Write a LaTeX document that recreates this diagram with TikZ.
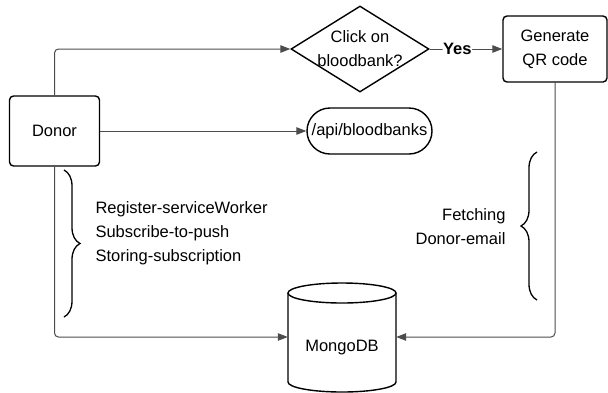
\documentclass[tikz,border=0pt]{standalone}
\usepackage{fontspec}
\setmainfont{Liberation Sans}
\usetikzlibrary{shapes.geometric,arrows.meta,decorations.pathreplacing}
\begin{document}
\begin{tikzpicture}[x=1pt,y=-1pt,
  every node/.style={font=\fontsize{16.5}{24}\selectfont},
  shapebox/.style={draw=black,line width=1.4pt,rounded corners=4pt,inner sep=0pt},
  conn/.style={draw=black!70,line width=1pt,rounded corners=4pt,-{Triangle[length=10pt,width=7.5pt]}},
  bracestyle/.style={draw=black,line width=1.3pt,decorate,decoration={brace,amplitude=16pt}}]
\useasboundingbox (0,0) rectangle (608,392);
\node[shapebox,minimum width=90pt,minimum height=70pt] (donor) at (54.5,131) {Donor};
\node[draw=black,line width=1.4pt,diamond,minimum width=138pt,minimum height=86pt,inner sep=0pt,
  label={[align=center,font=\fontsize{16.5}{24}\selectfont]center:Click on\\bloodbank?}] (dia) at (360,49) {};
\node[shapebox,minimum width=104pt,minimum height=66pt,align=center] (gen) at (555,49) {Generate\\QR code};
\node[draw=black,line width=1.4pt,rounded corners=23pt,minimum width=125pt,minimum height=46pt,inner sep=0pt] (api) at (369.5,131) {/api/bloodbanks};
\node[minimum width=108pt,minimum height=109pt,inner sep=0pt] (db) at (342,337) {};
\node at (342,348) {MongoDB};
% cylinder
\draw[line width=1.4pt] (342,293) ellipse [x radius=54pt, y radius=10pt];
\draw[line width=1.4pt] (288,293) -- (288,382) arc[start angle=180,end angle=360,x radius=54pt,y radius=10pt] -- (396,293);
% connectors
\draw[conn] (donor.north) |- (dia.west);
\draw[conn] (dia.east) -- node[pos=0.38,fill=white,inner sep=0.5pt,font=\fontsize{16.5}{24}\selectfont\bfseries] {Yes} (gen.west);
\draw[conn] (donor.east) -- (api.west);
\draw[conn] (donor.south) |- (db.west);
\draw[conn] (gen.south) |- (db.east);
% braces
\draw[bracestyle] (64,170) -- (64,317);
\draw[bracestyle] (537,300) -- (537,152);
\node[anchor=west,align=left] (ltext) at (92,233) {Register-serviceWorker\\Subscribe-to-push\\Storing-subscription};
\node[anchor=east,align=right] (rtext) at (509,227) {Fetching\\Donor-email};
\end{tikzpicture}
\end{document}
